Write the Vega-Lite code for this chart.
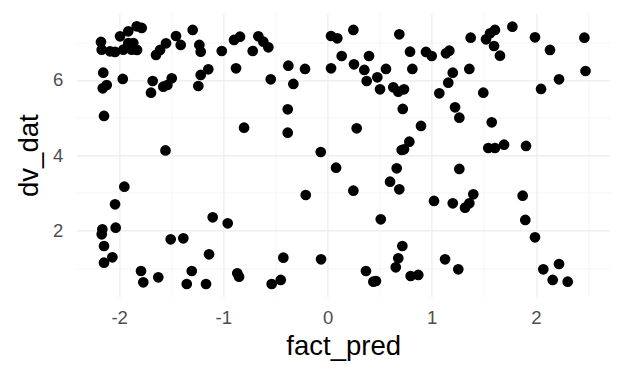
{
  "$schema": "https://vega.github.io/schema/vega-lite/v6.json",
  "width": 533.5,
  "height": 283.5,
  "autosize": "none",
  "padding": {"left": 76.4, "top": 13.4, "right": 14.1, "bottom": 87.1},
  "background": "white",
  "config": {
    "view": {"stroke": null},
    "font": "Liberation Sans",
    "axis": {
      "domain": false,
      "ticks": false,
      "labelFont": "Liberation Sans",
      "titleFont": "Liberation Sans",
      "labelColor": "#4D4D4D",
      "labelFontSize": 18.5,
      "titleFontSize": 27.5,
      "titleFontWeight": "normal",
      "titleColor": "#000000",
      "gridColor": "#EBEBEB"
    }
  },
  "data": {
    "values": [
      {"fact_pred": -2.174, "dv_dat": 7.011}, {"fact_pred": -2.167, "dv_dat": 6.806}, {"fact_pred": -2.087, "dv_dat": 6.763},
      {"fact_pred": -2.039, "dv_dat": 6.745}, {"fact_pred": -1.991, "dv_dat": 7.162}, {"fact_pred": -1.96, "dv_dat": 6.806},
      {"fact_pred": -1.912, "dv_dat": 7.295}, {"fact_pred": -1.879, "dv_dat": 6.806}, {"fact_pred": -1.831, "dv_dat": 7.428},
      {"fact_pred": -1.783, "dv_dat": 7.383}, {"fact_pred": -1.912, "dv_dat": 6.984}, {"fact_pred": -1.864, "dv_dat": 6.984},
      {"fact_pred": -1.828, "dv_dat": 6.798}, {"fact_pred": -1.646, "dv_dat": 6.665}, {"fact_pred": -1.607, "dv_dat": 6.798},
      {"fact_pred": -1.55, "dv_dat": 6.976}, {"fact_pred": -1.454, "dv_dat": 7.17}, {"fact_pred": -1.409, "dv_dat": 6.931},
      {"fact_pred": -1.294, "dv_dat": 7.33}, {"fact_pred": -1.23, "dv_dat": 6.931}, {"fact_pred": -1.217, "dv_dat": 6.753},
      {"fact_pred": -1.015, "dv_dat": 6.771}, {"fact_pred": -0.897, "dv_dat": 7.064}, {"fact_pred": -0.84, "dv_dat": 7.152},
      {"fact_pred": -0.718, "dv_dat": 6.771}, {"fact_pred": -0.664, "dv_dat": 7.162}, {"fact_pred": -2.152, "dv_dat": 6.194},
      {"fact_pred": -2.119, "dv_dat": 5.867}, {"fact_pred": -2.157, "dv_dat": 5.779}, {"fact_pred": -1.965, "dv_dat": 6.027},
      {"fact_pred": -1.678, "dv_dat": 5.973}, {"fact_pred": -1.694, "dv_dat": 5.662}, {"fact_pred": -1.576, "dv_dat": 5.822},
      {"fact_pred": -1.537, "dv_dat": 5.867}, {"fact_pred": -1.495, "dv_dat": 6.045}, {"fact_pred": -1.217, "dv_dat": 6.133},
      {"fact_pred": -1.144, "dv_dat": 6.285}, {"fact_pred": -1.24, "dv_dat": 5.84}, {"fact_pred": -0.878, "dv_dat": 6.311},
      {"fact_pred": -2.145, "dv_dat": 5.043}, {"fact_pred": -0.801, "dv_dat": 4.731}, {"fact_pred": -1.555, "dv_dat": 4.125},
      {"fact_pred": -0.616, "dv_dat": 7.019}, {"fact_pred": -0.568, "dv_dat": 6.87}, {"fact_pred": -0.376, "dv_dat": 6.38},
      {"fact_pred": -0.216, "dv_dat": 6.293}, {"fact_pred": -0.545, "dv_dat": 6.019}, {"fact_pred": -0.328, "dv_dat": 5.894},
      {"fact_pred": -0.382, "dv_dat": 5.221}, {"fact_pred": -0.382, "dv_dat": 4.598}, {"fact_pred": -0.065, "dv_dat": 4.085},
      {"fact_pred": 0.034, "dv_dat": 7.17}, {"fact_pred": 0.094, "dv_dat": 7.109}, {"fact_pred": 0.248, "dv_dat": 7.33},
      {"fact_pred": 0.136, "dv_dat": 6.638}, {"fact_pred": 0.034, "dv_dat": 6.311}, {"fact_pred": 0.254, "dv_dat": 6.418},
      {"fact_pred": 0.398, "dv_dat": 6.638}, {"fact_pred": 0.353, "dv_dat": 6.266}, {"fact_pred": 0.376, "dv_dat": 5.973},
      {"fact_pred": 0.478, "dv_dat": 6.072}, {"fact_pred": 0.561, "dv_dat": 6.293}, {"fact_pred": 0.504, "dv_dat": 5.753},
      {"fact_pred": 0.631, "dv_dat": 5.806}, {"fact_pred": 0.679, "dv_dat": 5.689}, {"fact_pred": 0.734, "dv_dat": 5.753},
      {"fact_pred": 0.689, "dv_dat": 7.215}, {"fact_pred": 0.792, "dv_dat": 6.753}, {"fact_pred": 0.814, "dv_dat": 6.293},
      {"fact_pred": 0.945, "dv_dat": 6.745}, {"fact_pred": 0.722, "dv_dat": 5.229}, {"fact_pred": 0.28, "dv_dat": 4.715},
      {"fact_pred": 0.897, "dv_dat": 4.777}, {"fact_pred": 0.712, "dv_dat": 4.138}, {"fact_pred": 0.734, "dv_dat": 4.157},
      {"fact_pred": 0.785, "dv_dat": 4.359}, {"fact_pred": 1.0, "dv_dat": 6.638}, {"fact_pred": 1.137, "dv_dat": 6.71},
      {"fact_pred": 1.169, "dv_dat": 6.779}, {"fact_pred": 1.374, "dv_dat": 7.125}, {"fact_pred": 1.521, "dv_dat": 7.082},
      {"fact_pred": 1.56, "dv_dat": 7.242}, {"fact_pred": 1.607, "dv_dat": 7.33}, {"fact_pred": 1.598, "dv_dat": 6.904},
      {"fact_pred": 1.655, "dv_dat": 6.646}, {"fact_pred": 1.774, "dv_dat": 7.418}, {"fact_pred": 1.991, "dv_dat": 7.136},
      {"fact_pred": 2.135, "dv_dat": 6.798}, {"fact_pred": 2.465, "dv_dat": 7.125}, {"fact_pred": 1.202, "dv_dat": 6.194},
      {"fact_pred": 1.159, "dv_dat": 5.928}, {"fact_pred": 1.073, "dv_dat": 5.646}, {"fact_pred": 1.361, "dv_dat": 6.293},
      {"fact_pred": 1.495, "dv_dat": 5.662}, {"fact_pred": 2.222, "dv_dat": 6.019}, {"fact_pred": 2.049, "dv_dat": 5.761},
      {"fact_pred": 2.476, "dv_dat": 6.239}, {"fact_pred": 1.224, "dv_dat": 5.274}, {"fact_pred": 1.265, "dv_dat": 4.997},
      {"fact_pred": 1.576, "dv_dat": 4.875}, {"fact_pred": 1.543, "dv_dat": 4.191}, {"fact_pred": 1.607, "dv_dat": 4.191},
      {"fact_pred": 1.694, "dv_dat": 4.279}, {"fact_pred": 1.905, "dv_dat": 4.245}, {"fact_pred": -1.95, "dv_dat": 3.162},
      {"fact_pred": -2.039, "dv_dat": 2.694}, {"fact_pred": -2.033, "dv_dat": 2.072}, {"fact_pred": -2.161, "dv_dat": 2.029},
      {"fact_pred": -2.167, "dv_dat": 1.896}, {"fact_pred": -2.145, "dv_dat": 1.585}, {"fact_pred": -2.065, "dv_dat": 1.285},
      {"fact_pred": -2.145, "dv_dat": 1.141}, {"fact_pred": -1.102, "dv_dat": 2.348}, {"fact_pred": -0.958, "dv_dat": 2.189},
      {"fact_pred": -1.505, "dv_dat": 1.763}, {"fact_pred": -1.384, "dv_dat": 1.79}, {"fact_pred": -1.137, "dv_dat": 1.364},
      {"fact_pred": -1.79, "dv_dat": 0.92}, {"fact_pred": -1.768, "dv_dat": 0.62}, {"fact_pred": -1.624, "dv_dat": 0.753},
      {"fact_pred": -1.303, "dv_dat": 0.92}, {"fact_pred": -1.351, "dv_dat": 0.574}, {"fact_pred": -1.166, "dv_dat": 0.574},
      {"fact_pred": -0.866, "dv_dat": 0.859}, {"fact_pred": -0.849, "dv_dat": 0.769}, {"fact_pred": 0.082, "dv_dat": 3.668},
      {"fact_pred": 0.248, "dv_dat": 3.056}, {"fact_pred": -0.209, "dv_dat": 2.941}, {"fact_pred": 0.511, "dv_dat": 2.295},
      {"fact_pred": 0.664, "dv_dat": 3.652}, {"fact_pred": 0.6, "dv_dat": 3.295}, {"fact_pred": 0.689, "dv_dat": 3.093},
      {"fact_pred": 0.718, "dv_dat": 1.585}, {"fact_pred": 0.679, "dv_dat": 1.258}, {"fact_pred": 0.655, "dv_dat": 1.019},
      {"fact_pred": -0.424, "dv_dat": 1.274}, {"fact_pred": -0.062, "dv_dat": 1.231}, {"fact_pred": 0.369, "dv_dat": 0.92},
      {"fact_pred": 0.44, "dv_dat": 0.636}, {"fact_pred": 0.465, "dv_dat": 0.654}, {"fact_pred": -0.536, "dv_dat": 0.574},
      {"fact_pred": -0.449, "dv_dat": 0.681}, {"fact_pred": 0.798, "dv_dat": 0.787}, {"fact_pred": 0.871, "dv_dat": 0.814},
      {"fact_pred": 1.265, "dv_dat": 3.633}, {"fact_pred": 1.022, "dv_dat": 2.782}, {"fact_pred": 1.202, "dv_dat": 2.721},
      {"fact_pred": 1.32, "dv_dat": 2.604}, {"fact_pred": 1.361, "dv_dat": 2.721}, {"fact_pred": 1.399, "dv_dat": 2.96},
      {"fact_pred": 1.873, "dv_dat": 2.923}, {"fact_pred": 1.898, "dv_dat": 2.277}, {"fact_pred": 1.991, "dv_dat": 1.816},
      {"fact_pred": 1.128, "dv_dat": 1.231}, {"fact_pred": 1.255, "dv_dat": 0.965}, {"fact_pred": 2.071, "dv_dat": 0.965},
      {"fact_pred": 2.222, "dv_dat": 1.106}, {"fact_pred": 2.161, "dv_dat": 0.681}, {"fact_pred": 2.305, "dv_dat": 0.636}
    ]
  },
  "mark": {"type": "circle", "color": "#000000", "opacity": 1, "size": 115},
  "encoding": {
    "x": {
      "field": "fact_pred",
      "type": "quantitative",
      "scale": {"domain": [-2.41, 2.71], "nice": false, "zero": false},
      "axis": {
        "title": "fact_pred",
        "values": [-2.5, -2, -1.5, -1, -0.5, 0, 0.5, 1, 1.5, 2, 2.5],
        "labelExpr": "datum.value % 1 === 0 ? (datum.value < 0 ? '-' + abs(datum.value) : '' + datum.value) : ''",
        "labelPadding": 11.5,
        "titlePadding": 6,
        "gridWidth": {"condition": {"test": "datum.value % 1 === 0", "value": 1.1}, "value": 0.55}
      }
    },
    "y": {
      "field": "dv_dat",
      "type": "quantitative",
      "scale": {"domain": [0.231, 7.771], "nice": false, "zero": false},
      "axis": {
        "title": "dv_dat",
        "values": [1, 2, 3, 4, 5, 6, 7],
        "labelExpr": "datum.value % 2 === 0 ? '' + datum.value : ''",
        "labelPadding": 13.5,
        "titlePadding": 9,
        "gridWidth": {"condition": {"test": "datum.value % 2 === 0", "value": 1.1}, "value": 0.55}
      }
    }
  }
}
